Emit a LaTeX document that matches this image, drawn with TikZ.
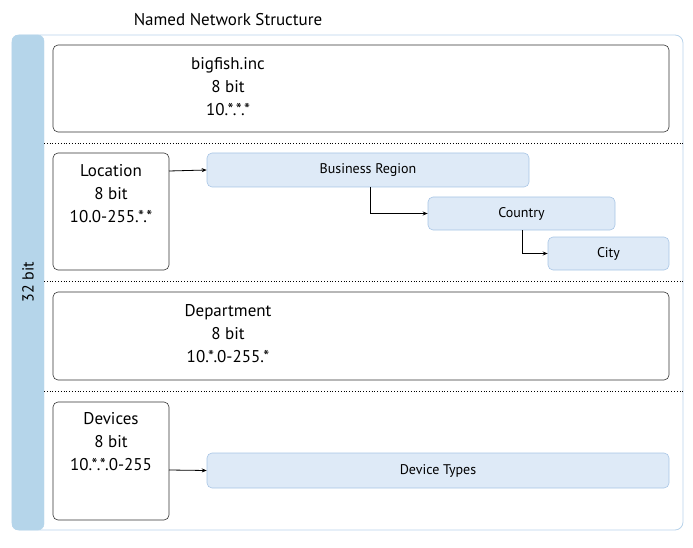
\documentclass[tikz,border=0pt]{standalone}
\usepackage{fontspec}
\setmainfont{PT Sans}
\usetikzlibrary{arrows.meta}
\definecolor{barblue}{HTML}{B5D5EA}
\definecolor{outerb}{HTML}{B8D3EA}
\definecolor{subfill}{HTML}{DEEAF7}
\definecolor{subdraw}{HTML}{A8C5E5}
\begin{document}
\begin{tikzpicture}[x=1pt,y=-1pt,
  big/.style={draw=black!80,rounded corners=5pt,line width=0.6pt},
  sub/.style={draw=subdraw,fill=subfill,rounded corners=5pt,line width=0.6pt},
  lbl/.style={font=\fontsize{17}{23}\selectfont,align=center},
  sl/.style={font=\fontsize{14}{16}\selectfont},
  arr/.style={-{Stealth[length=5pt,width=4pt]},line width=0.8pt},
  dot/.style={dotted,line width=0.8pt}]
\useasboundingbox (0,0) rectangle (693,548);
\node[font=\fontsize{17}{20}\selectfont] (title) at (228,20) {Named Network Structure};
\draw[outerb,rounded corners=8pt,line width=0.8pt] (12,35) rectangle (683,530);
\draw[fill=barblue,draw=barblue,rounded corners=6pt] (12,35) rectangle (44,530);
\node[font=\fontsize{16}{18}\selectfont,rotate=90] (b32) at (28,282) {32 bit};
\draw[big] (53,45) rectangle (669,132);
\node[lbl] (t1) at (228,87) {bigfish.inc\\8 bit\\10.*.*.*};
\draw[dot] (44,143) -- (683,143);
\draw[big] (53,153) rectangle (169,270);
\node[lbl] (t2) at (111,194) {Location\\8 bit\\10.0-255.*.*};
\node[sub,minimum width=322,minimum height=34,sl] (br) at (368,170) {Business Region};
\node[sub,minimum width=187,minimum height=33,sl] (co) at (521.5,213.5) {Country};
\node[sub,minimum width=121,minimum height=33,sl] (ci) at (608.5,253.5) {City};
\coordinate (l1) at (169,171);
\draw[arr] (l1) -- (br.west);
\draw[arr] (370,187) |- (co.west);
\draw[arr] (522,230) |- (ci.west);
\draw[dot] (44,281) -- (683,281);
\draw[big] (53,292) rectangle (669,380);
\node[lbl] (t3) at (228,334) {Department\\8 bit\\10.*.0-255.*};
\draw[dot] (44,391) -- (683,391);
\draw[big] (53,402) rectangle (169,520);
\node[lbl] (t4) at (111,442) {Devices\\8 bit\\10.*.*.0-255};
\node[sub,minimum width=462,minimum height=35,sl] (dt) at (438,470.5) {Device Types};
\coordinate (l2) at (169,470);
\draw[arr] (l2) -- (dt.west);
\end{tikzpicture}
\end{document}
